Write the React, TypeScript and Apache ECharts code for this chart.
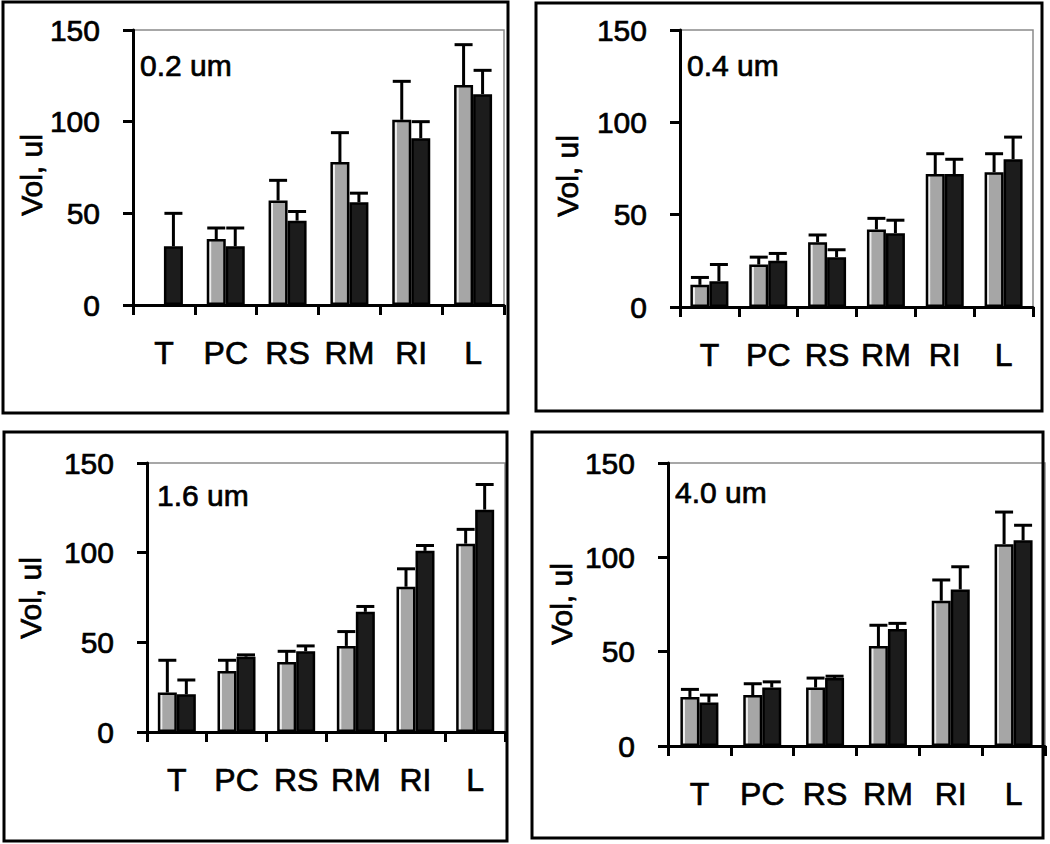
import React, { useEffect, useRef } from "react";
import * as echarts from "echarts";

// ---------- data ----------
const categories = ["T", "PC", "RS", "RM", "RI", "L"];
const yMin = 0;
const yMax = 150;
const yStep = 50;
const yAxisTitle = "Vol, ul";

const panelLabels = ["0.2 um", "0.4 um", "1.6 um", "4.0 um"];

// 0.2 um
const grayMean02 = [null, 36, 57, 78, 101, 120];
const graySd02 = [null, 6, 11, 16, 21, 22];
const blackMean02 = [32, 32, 46, 56, 91, 115];
const blackSd02 = [18, 10, 5, 5, 9, 13];

// 0.4 um
const grayMean04 = [12, 23, 35, 42, 72, 73];
const graySd04 = [4, 4, 4, 6, 11, 10];
const blackMean04 = [14, 25, 27, 40, 72, 80];
const blackSd04 = [9, 4, 4, 7, 8, 12];

// 1.6 um
const grayMean16 = [22, 34, 39, 48, 81, 105];
const graySd16 = [18, 6, 6, 8, 10, 8];
const blackMean16 = [21, 42, 45, 67, 101, 124];
const blackSd16 = [8, 1, 3, 3, 3, 14];

// 4.0 um
const grayMean40 = [26, 27, 31, 53, 77, 107];
const graySd40 = [4, 6, 5, 11, 11, 17];
const blackMean40 = [23, 31, 36, 62, 83, 109];
const blackSd40 = [4, 3, 1, 3, 12, 8];

const panelData = [
  { gray: grayMean02, graySd: graySd02, black: blackMean02, blackSd: blackSd02 },
  { gray: grayMean04, graySd: graySd04, black: blackMean04, blackSd: blackSd04 },
  { gray: grayMean16, graySd: graySd16, black: blackMean16, blackSd: blackSd16 },
  { gray: grayMean40, graySd: graySd40, black: blackMean40, blackSd: blackSd40 },
];

// ---------- layout ----------
const grids = [
  { left: 133, top: 30, width: 371, height: 275 },
  { left: 680, top: 30, width: 353, height: 277 },
  { left: 147, top: 463, width: 358, height: 269 },
  { left: 668, top: 463, width: 377, height: 283 },
];
const boxes = [
  { x: 3, y: 2, width: 505, height: 411 },
  { x: 536, y: 3, width: 506, height: 408 },
  { x: 4, y: 432, width: 503, height: 409 },
  { x: 532, y: 432, width: 511, height: 406 },
];
const titlePos = [
  { x: 31, y: 175 },
  { x: 567, y: 176 },
  { x: 30, y: 598 },
  { x: 561, y: 604 },
];
const labelPos = [
  { x: 140, y: 65 },
  { x: 687, y: 65 },
  { x: 157, y: 495 },
  { x: 675, y: 492 },
];

const FONT = "'Liberation Sans', Arial, sans-serif";
const BAR_W = 19;
const TXT = {
  color: "#000",
  fontFamily: FONT,
  textBorderColor: "#000",
  textBorderWidth: 0.7,
};

function errorSeries(idx: number, means: (number | null)[], sds: (number | null)[], offset: number) {
  const data: number[][] = [];
  means.forEach((m, i) => {
    const s = sds[i];
    if (m != null && s != null) data.push([i, m, m + s]);
  });
  return {
    type: "custom",
    xAxisIndex: idx,
    yAxisIndex: idx,
    z: 5,
    silent: true,
    encode: { x: 0, y: [1, 2] },
    data,
    renderItem: (_params: any, api: any) => {
      const x = api.value(0);
      const base = api.coord([x, api.value(1)]);
      const top = api.coord([x, api.value(2)]);
      const cx = base[0] + offset;
      const half = 9;
      return {
        type: "group",
        children: [
          {
            type: "line",
            shape: { x1: cx, y1: base[1], x2: cx, y2: top[1] },
            style: { stroke: "#000", lineWidth: 3 },
          },
          {
            type: "line",
            shape: { x1: cx - half, y1: top[1], x2: cx + half, y2: top[1] },
            style: { stroke: "#000", lineWidth: 3 },
          },
        ],
      };
    },
  };
}

export default function App() {
  const ref = useRef<HTMLDivElement>(null);

  useEffect(() => {
    if (!ref.current) return;
    const chart = echarts.init(ref.current, null, { renderer: "svg" });

    const grayFill = new echarts.graphic.LinearGradient(0, 0, 1, 0, [
      { offset: 0, color: "#ececec" },
      { offset: 0.18, color: "#ececec" },
      { offset: 0.22, color: "#a6a6a6" },
      { offset: 1, color: "#a6a6a6" },
    ]);

    const series: any[] = [];
    panelData.forEach((p, i) => {
      series.push({
        type: "bar",
        xAxisIndex: i,
        yAxisIndex: i,
        data: p.gray,
        barWidth: BAR_W,
        barGap: "0%",
        itemStyle: { color: grayFill, borderColor: "#000", borderWidth: 2.5 },
        silent: true,
      });
      series.push({
        type: "bar",
        xAxisIndex: i,
        yAxisIndex: i,
        data: p.black,
        barWidth: BAR_W,
        barGap: "0%",
        itemStyle: { color: "#1c1c1c", borderColor: "#000", borderWidth: 2.5 },
        silent: true,
      });
      series.push(errorSeries(i, p.gray, p.graySd, -BAR_W / 2));
      series.push(errorSeries(i, p.black, p.blackSd, BAR_W / 2));
    });

    const textGraphic = (text: string, x: number, y: number, rotation: number, align: string) => ({
      type: "text",
      x,
      y,
      rotation,
      style: {
        text,
        fontSize: 30,
        fontFamily: FONT,
        fill: "#000",
        stroke: "#000",
        lineWidth: 0.7,
        align,
        textAlign: align,
        verticalAlign: "middle",
        textVerticalAlign: "middle",
      },
      silent: true,
      z: 10,
    });

    const option: any = {
      animation: false,
      backgroundColor: "#fff",
      grid: grids.map((g) => ({
        ...g,
        containLabel: false,
        outerBoundsMode: "none",
        show: true,
        borderColor: "#8a8a8a",
        borderWidth: 1.5,
        backgroundColor: "transparent",
      })),
      xAxis: grids.map((_g, i) => ({
        type: "category",
        gridIndex: i,
        data: categories,
        boundaryGap: true,
        axisLine: { show: true, lineStyle: { color: "#000", width: 3 } },
        axisTick: { show: true, length: 10, alignWithLabel: false, lineStyle: { color: "#000", width: 3 } },
        axisLabel: {
          ...TXT,
          interval: 0,
          hideOverlap: false,
          margin: 32,
          fontSize: 32,
        },
        splitLine: { show: false },
      })),
      yAxis: grids.map((_g, i) => ({
        type: "value",
        gridIndex: i,
        min: yMin,
        max: yMax,
        interval: yStep,
        axisLine: { show: true, lineStyle: { color: "#000", width: 3 } },
        axisTick: { show: true, length: 10, inside: false, lineStyle: { color: "#000", width: 3 } },
        axisLabel: { ...TXT, margin: 33, fontSize: 30 },
        splitLine: { show: false },
      })),
      graphic: [
        ...boxes.map((b) => ({
          type: "rect",
          shape: b,
          style: { fill: "none", stroke: "#000", lineWidth: 3 },
          silent: true,
          z: 10,
        })),
        ...titlePos.map((p) => textGraphic(yAxisTitle, p.x, p.y, Math.PI / 2, "center")),
        ...labelPos.map((p, i) => textGraphic(panelLabels[i], p.x, p.y, 0, "left")),
      ],
      series,
    };

    chart.setOption(option);
    return () => chart.dispose();
  }, []);

  return (
    <div
      ref={ref}
      style={{ position: "fixed", left: 0, top: 0, width: 1050, height: 844, background: "#fff" }}
    />
  );
}
